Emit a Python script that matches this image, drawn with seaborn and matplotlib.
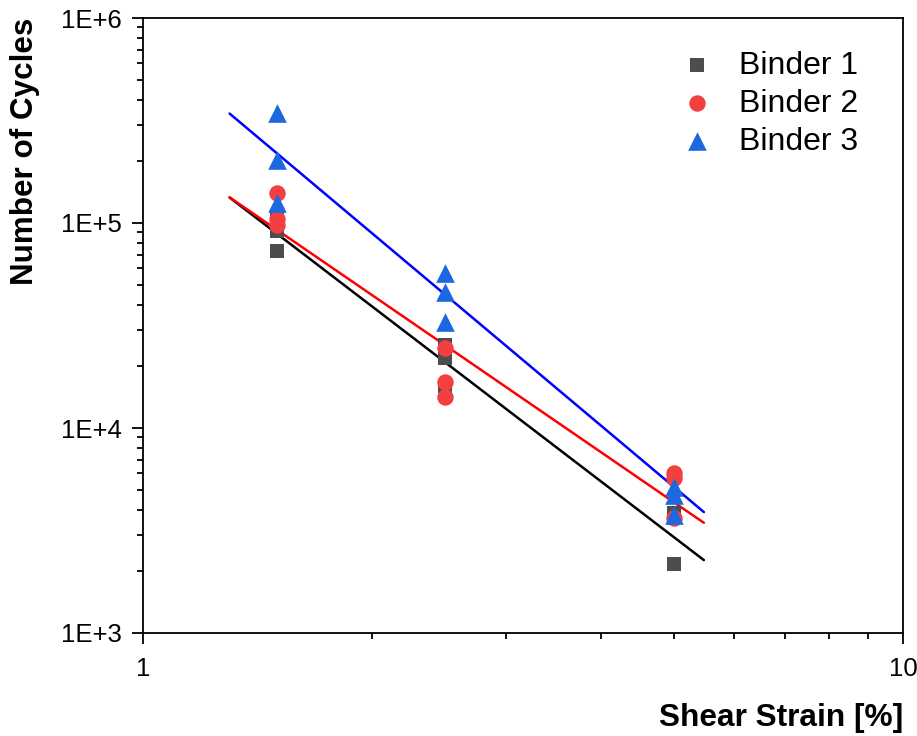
import numpy as np
import pandas as pd
import matplotlib
matplotlib.use("Agg")
import matplotlib.pyplot as plt
import seaborn as sns
from matplotlib.ticker import LogLocator, FixedLocator, FixedFormatter, NullFormatter

# ---- data ----
binders = ["Binder 1", "Binder 2", "Binder 3"]
strain_b1 = [1.5, 1.5, 1.5, 2.5, 2.5, 2.5, 5, 5]
cycles_b1 = [106000, 91000, 73000, 25400, 21900, 16000, 3850, 2170]
strain_b2 = [1.5, 1.5, 1.5, 2.5, 2.5, 2.5, 5, 5, 5]
cycles_b2 = [140000, 105000, 98000, 24600, 16800, 14200, 6030, 5700, 3640]
strain_b3 = [1.5, 1.5, 1.5, 2.5, 2.5, 2.5, 5, 5, 5]
cycles_b3 = [344000, 203000, 125000, 57000, 46000, 32900, 5150, 4700, 3760]

# power-law fits N = a * strain^b
fit_a = [280000, 260000, 774000]
fit_b = [-2.834, -2.544, -3.115]
fit_range = [1.3, 5.47]

y_ticks = [1e3, 1e4, 1e5, 1e6]
y_tick_labels = ["1E+3", "1E+4", "1E+5", "1E+6"]
x_ticks = [1, 10]
x_tick_labels = ["1", "10"]

marker_colors = ["#4d4d4d", "#f24040", "#1c68e0"]
line_colors = ["#000000", "#ff0000", "#0000ff"]
markers = ["s", "o", "^"]
marker_sizes = [110, 140, 180]

# ---- build tables ----
strains = [strain_b1, strain_b2, strain_b3]
cycles = [cycles_b1, cycles_b2, cycles_b3]
point_dfs = [pd.DataFrame({"strain": s, "cycles": c, "binder": n})
             for s, c, n in zip(strains, cycles, binders)]

xs = np.geomspace(fit_range[0], fit_range[1], 50)
fit_df = pd.concat([
    pd.DataFrame({"strain": xs, "cycles": a * xs ** b, "binder": name})
    for name, a, b in zip(binders, fit_a, fit_b)
], ignore_index=True)

sns.set_theme(style="ticks")
plt.rcParams["font.family"] = ["Liberation Sans", "DejaVu Sans"]
plt.rcParams["text.color"] = "black"
plt.rcParams["axes.labelcolor"] = "black"

fig = plt.figure(figsize=(9.17, 7.36), dpi=100)
ax = fig.add_axes([143 / 917, 1 - 633 / 736, (903 - 143) / 917, (633 - 18) / 736])

sns.lineplot(data=fit_df, x="strain", y="cycles", hue="binder",
             palette=dict(zip(binders, line_colors)), linewidth=1.8,
             legend=False, ax=ax, zorder=2)
for d, n, col, m, s in zip(point_dfs, binders, marker_colors, markers, marker_sizes):
    sns.scatterplot(data=d, x="strain", y="cycles", color=col, marker=m, s=s,
                    linewidth=0, label=n, ax=ax, zorder=3)

ax.set_xscale("log")
ax.set_yscale("log")
ax.set_xlim(1, 10)
ax.set_ylim(1e3, 1e6)

ax.yaxis.set_major_locator(FixedLocator(y_ticks))
ax.yaxis.set_major_formatter(FixedFormatter(y_tick_labels))
ax.xaxis.set_major_locator(FixedLocator(x_ticks))
ax.xaxis.set_major_formatter(FixedFormatter(x_tick_labels))
ax.xaxis.set_minor_locator(LogLocator(base=10, subs=np.arange(2, 10)))
ax.yaxis.set_minor_locator(LogLocator(base=10, subs=np.arange(2, 10)))
ax.xaxis.set_minor_formatter(NullFormatter())
ax.yaxis.set_minor_formatter(NullFormatter())

ax.tick_params(axis="both", which="major", direction="out", length=8, width=1.3,
               labelsize=18.5, colors="black", labelcolor="black")
ax.tick_params(axis="both", which="minor", direction="out", length=4.5, width=1.3,
               colors="black")
ax.tick_params(axis="x", which="major", pad=9)
ax.tick_params(axis="y", which="major", pad=7)
for sp in ax.spines.values():
    sp.set_linewidth(1.3)
    sp.set_color("black")
    sp.set_visible(True)

ax.set_xlabel("Shear Strain [%]", fontsize=22.8, fontweight="bold")
ax.xaxis.set_label_coords(1.0, -0.138)
ax.xaxis.label.set_horizontalalignment("right")
ax.xaxis.label.set_verticalalignment("center")
ax.set_ylabel("Number of Cycles", fontsize=22.6, fontweight="bold")
ax.yaxis.set_label_coords(-0.155, 1.0)
ax.yaxis.label.set_verticalalignment("center")
ax.yaxis.label.set_horizontalalignment("right")

leg = ax.legend(loc="upper right", bbox_to_anchor=(0.97, 0.983), frameon=False,
                fontsize=23, handletextpad=0.7, labelspacing=0.25,
                handlelength=1.2, borderaxespad=0.3)
for t in leg.get_texts():
    t.set_color("black")

fig.savefig("out.png", dpi=100)
